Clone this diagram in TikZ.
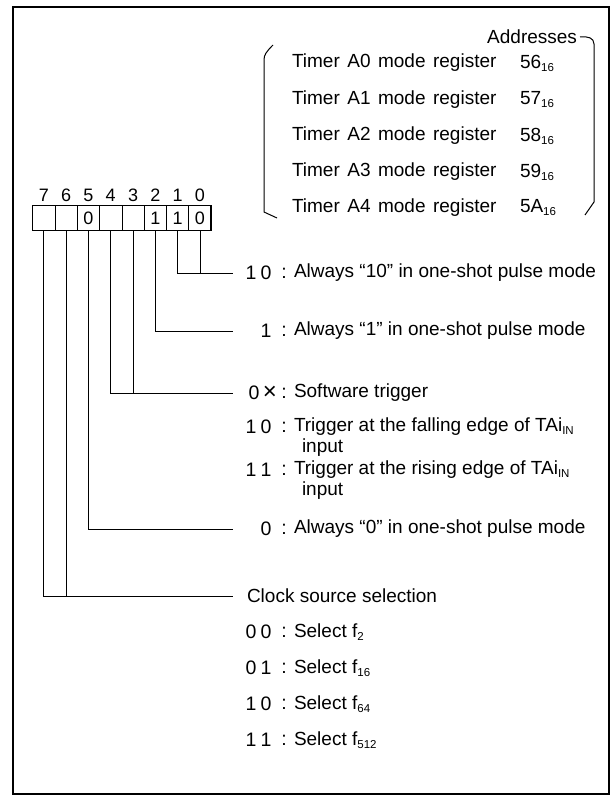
\documentclass[tikz,border=0pt]{standalone}
\usepackage{fontspec}
\setmainfont{Liberation Sans}
\newcommand{\subsc}[1]{\raisebox{-0.3ex}{\fontsize{11.5}{11.5}\selectfont #1}}
\newcommand{\wsp}{\hspace{7.5pt}}
\begin{document}
\begin{tikzpicture}[x=1pt,y=-1pt,
  every node/.style={inner sep=0pt,outer sep=0pt},
  txt/.style={anchor=west,font=\fontsize{19}{20}\selectfont},
  code/.style={anchor=center,font=\fontsize{19.5}{20}\selectfont},
  cell/.style={draw,line width=0.8pt,minimum width=22.3pt,minimum height=25pt,font=\fontsize{18}{20}\selectfont},
  bitnum/.style={font=\fontsize{18}{20}\selectfont},
  conn/.style={line width=0.8pt},
  brk/.style={line width=1pt}]
\useasboundingbox (0,0) rectangle (614,798);
\draw[line width=2.5pt] (13,7) rectangle (609,794);

% registers
\node[txt,anchor=east] (addr) at (577,37) {Addresses};
\node[txt] (t0) at (292,63) {Timer\wsp A0\wsp mode\wsp register};
\node[txt] (t1) at (292,99.5) {Timer\wsp A1\wsp mode\wsp register};
\node[txt] (t2) at (292,136) {Timer\wsp A2\wsp mode\wsp register};
\node[txt] (t3) at (292,172) {Timer\wsp A3\wsp mode\wsp register};
\node[txt] (t4) at (292,208) {Timer\wsp A4\wsp mode\wsp register};
\node[txt] (a0) at (520,63) {56\subsc{16}};
\node[txt] (a1) at (520,99.5) {57\subsc{16}};
\node[txt] (a2) at (520,136) {58\subsc{16}};
\node[txt] (a3) at (520,172) {59\subsc{16}};
\node[txt] (a4) at (520,208) {5A\subsc{16}};
\draw[brk] (273,45) .. controls (266,52) and (264,55) .. (264,60) -- (264,212) -- (277,218);
\draw[brk] (addr.east) ++(3,0) coordinate (ae) .. controls (588,36) and (594,38) .. (594,44) -- (594,202) -- (585,215);

% bit cells
\foreach \i in {0,...,7} {
  \node[cell] (b\i) at ({32.7+22.3*(7-\i)+11.15},218) {};
  \node[bitnum] (n\i) at ({32.7+22.3*(7-\i)+11.15},195) {\i};
}
\node[font=\fontsize{18}{20}\selectfont] at (b5) {0};
\node[font=\fontsize{18}{20}\selectfont] at (b2) {1};
\node[font=\fontsize{18}{20}\selectfont] at (b1) {1};
\node[font=\fontsize{18}{20}\selectfont] at (b0) {0};
\draw[line width=1.4pt] (b7.north west) rectangle (b0.south east);

% connector ends
\coordinate (e1) at (233,273);
\coordinate (e2) at (233,331);
\coordinate (e3) at (233,393);
\coordinate (e4) at (233,529);
\coordinate (e5) at (233,596);

\draw[conn] (b1.south) |- (e1);
\draw[conn] (b0.south) -- (b0.south |- e1);
\draw[conn] (b2.south) |- (e2);
\draw[conn] (b4.south) |- (e3);
\draw[conn] (b3.south) -- (b3.south |- e3);
\draw[conn] (b5.south) |- (e4);
\draw[conn] (b7.south) |- (e5);
\draw[conn] (b6.south) -- (b6.south |- e5);

% code descriptions
\node[code] (c1a) at (251,273) {1};
\node[code] (c1b) at (266,273) {0};
\node[code] (k1) at (284,273) {:};
\node[txt] (d1) at (294,273) {Always “10” in one-shot pulse mode};

\node[code] (c2b) at (266,331) {1};
\node[code] (k2) at (284,331) {:};
\node[txt] (d2) at (294,331) {Always “1” in one-shot pulse mode};

\node[code] (c3a) at (254,393) {0};
\node[code,font=\fontsize{24}{24}\selectfont] (c3b) at (270,393) {×};
\node[code] (k3) at (284,393) {:};
\node[txt] (d3) at (294,393) {Software trigger};

\node[code] (c4a) at (251,427) {1};
\node[code] (c4b) at (266,427) {0};
\node[code] (k4) at (284,427) {:};
\node[txt] (d4) at (294,427) {Trigger at the falling edge of TAi\subsc{IN}};
\node[txt] (d4b) at (302,448) {input};

\node[code] (c5a) at (251,470) {1};
\node[code] (c5b) at (266,470) {1};
\node[code] (k5) at (284,470) {:};
\node[txt] (d5) at (294,470) {Trigger at the rising edge of TAi\subsc{IN}};
\node[txt] (d5b) at (302,491) {input};

\node[code] (c6b) at (266,529) {0};
\node[code] (k6) at (284,529) {:};
\node[txt] (d6) at (294,529) {Always “0” in one-shot pulse mode};

\node[txt] (d7) at (247,596) {Clock source selection};

\node[code] (c8a) at (251,632) {0};
\node[code] (c8b) at (266,632) {0};
\node[code] (k8) at (284,632) {:};
\node[txt] (d8) at (294,632) {Select f\subsc{2}};

\node[code] (c9a) at (251,668) {0};
\node[code] (c9b) at (266,668) {1};
\node[code] (k9) at (284,668) {:};
\node[txt] (d9) at (294,668) {Select f\subsc{16}};

\node[code] (c10a) at (251,704) {1};
\node[code] (c10b) at (266,704) {0};
\node[code] (k10) at (284,704) {:};
\node[txt] (d10) at (294,704) {Select f\subsc{64}};

\node[code] (c11a) at (251,740) {1};
\node[code] (c11b) at (266,740) {1};
\node[code] (k11) at (284,740) {:};
\node[txt] (d11) at (294,740) {Select f\subsc{512}};
\end{tikzpicture}
\end{document}
